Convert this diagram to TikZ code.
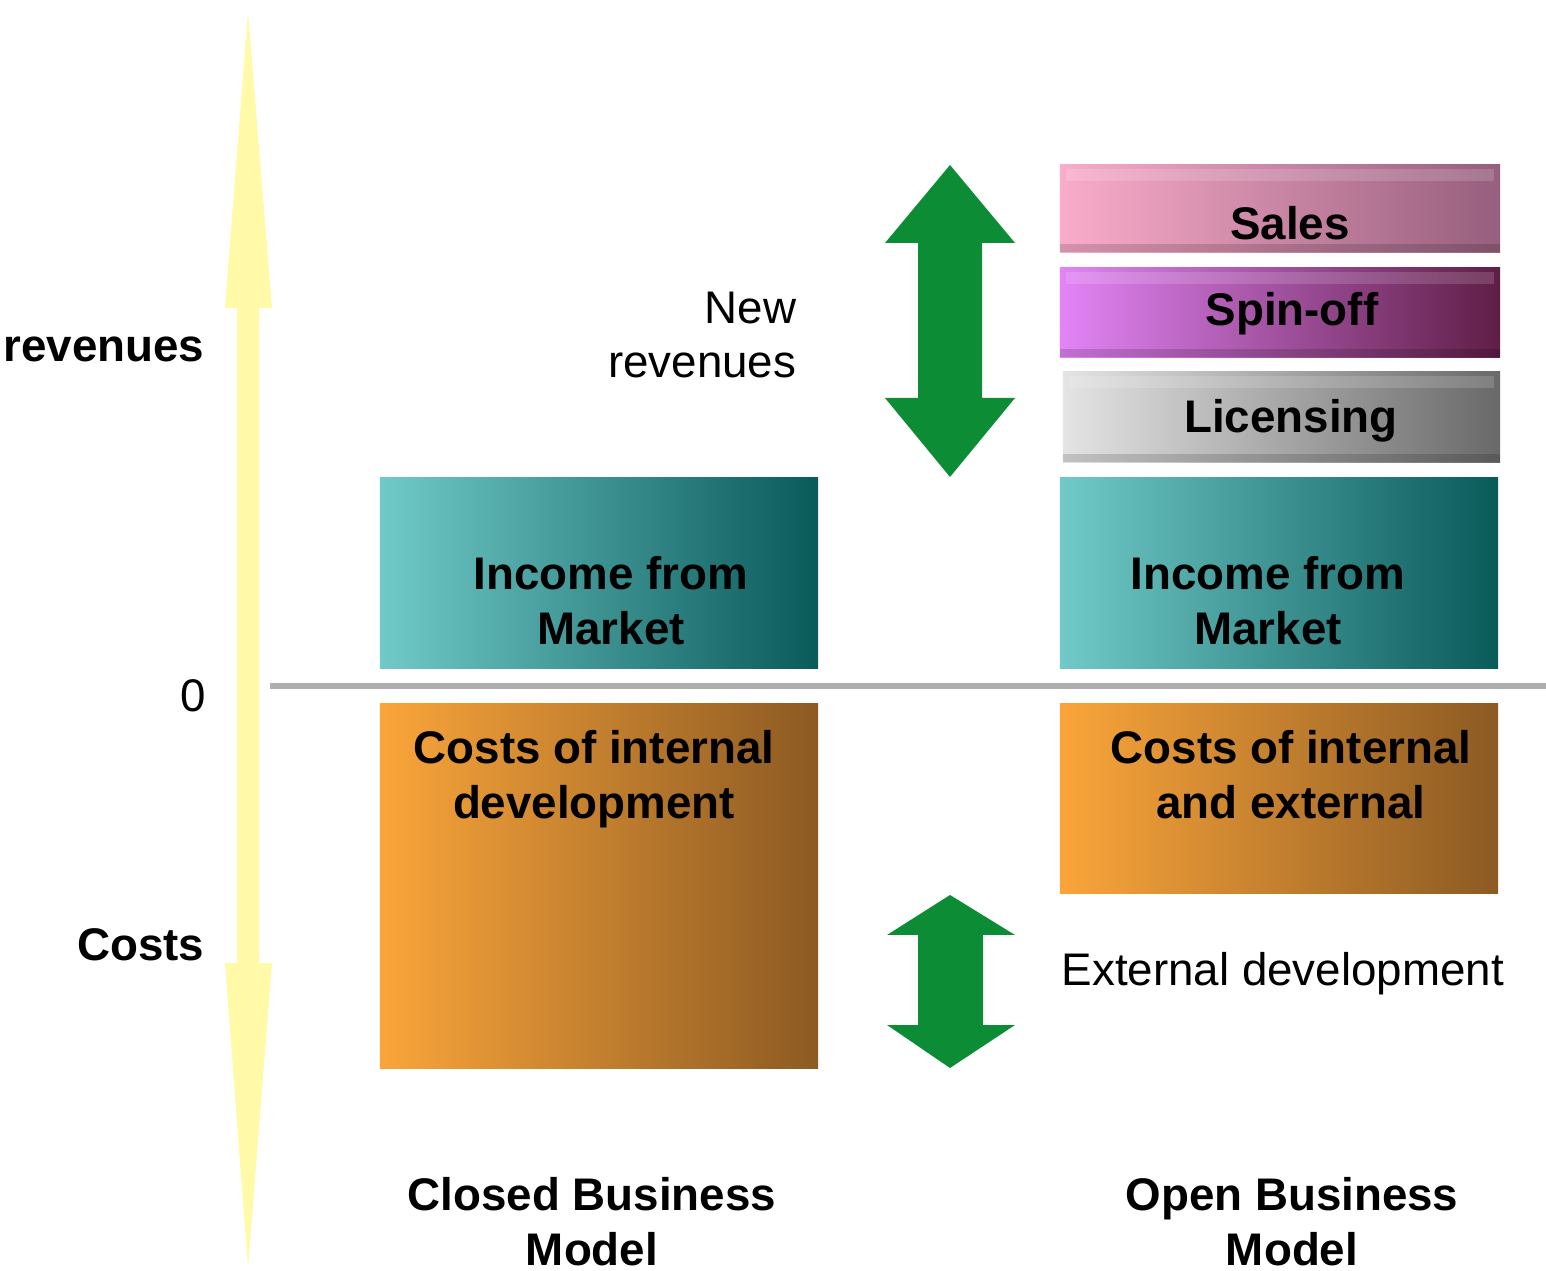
\documentclass[tikz,border=0pt]{standalone}
\usepackage{fontspec}
\setmainfont{Liberation Sans}
\usetikzlibrary{shadings}
\definecolor{tealL}{RGB}{112,202,200}
\definecolor{tealR}{RGB}{10,90,90}
\definecolor{oranL}{RGB}{250,165,58}
\definecolor{oranR}{RGB}{140,90,35}
\definecolor{saleL}{RGB}{250,172,202}
\definecolor{saleR}{RGB}{150,95,125}
\definecolor{spinL}{RGB}{226,132,246}
\definecolor{spinR}{RGB}{95,30,70}
\definecolor{licL}{RGB}{228,228,228}
\definecolor{licR}{RGB}{105,105,105}
\definecolor{arrgreen}{RGB}{12,140,52}
\definecolor{axisyellow}{RGB}{255,249,168}
\definecolor{zeroline}{RGB}{175,175,175}
\tikzset{
  lbl/.style={font=\fontsize{13}{15.6}\selectfont, text=black, inner sep=0pt, align=center},
  blbl/.style={lbl, font=\fontsize{13}{15.6}\selectfont\bfseries},
  bar/.style={rectangle, inner sep=0pt, draw=none},
  teal/.style={bar, left color=tealL, right color=tealR},
  oran/.style={bar, left color=oranL, right color=oranR},
  sale/.style={bar, left color=saleL, right color=saleR},
  spin/.style={bar, left color=spinL, right color=spinR},
  lic/.style={bar, left color=licL, right color=licR},
  hilite/.style={fill=white, opacity=0.15},
  lowlite/.style={fill=black, opacity=0.15}
}
\begin{document}
\begin{tikzpicture}[x=0.01cm,y=-0.01cm]
\useasboundingbox (0,0) rectangle (1546,1271);
% vertical axis arrow (yellow)
\fill[axisyellow] (248,12) -- (272,308) -- (259,308) -- (259,963) -- (272,963)
  -- (248,1268) -- (225,963) -- (237,963) -- (237,308) -- (225,308) -- cycle;
% zero line
\coordinate (z0) at (270,686);
\coordinate (z1) at (1546,686);
\draw[zeroline, line width=1.6pt] (z0) -- (z1);
% axis labels
\node[blbl, anchor=east] (rev) at (205,349) {revenues};
\node[blbl, anchor=east] (cost) at (205,945) {Costs};
\node[lbl, anchor=east] (zero) at (207,696) {0};
% closed model boxes
\node[teal, minimum width=4.38cm, minimum height=1.90cm] (incL) at (599,573) {};
\node[blbl] (incLt) at (611,601) {Income from\\Market};
\node[oran, minimum width=4.38cm, minimum height=3.64cm] (costL) at (599,886) {};
\node[blbl] (costLt) at (594,779) {Costs of internal\\development};
% open model boxes
\node[teal, minimum width=4.38cm, minimum height=1.90cm] (incR) at (1279,573) {};
\node[blbl] (incRt) at (1268,601) {Income from\\Market};
\node[oran, minimum width=4.38cm, minimum height=1.89cm] (costR) at (1279,798.5) {};
\node[blbl] (costRt) at (1291,775) {Costs of internal\\and external};
% revenue bars
\node[sale, minimum width=4.40cm, minimum height=0.87cm] (sales) at (1280,208.5) {};
\fill[hilite] (1066,169) rectangle (1494,181);
\fill[lowlite] (1060,244) rectangle (1500,252);
\node[blbl] (salest) at (1290,223) {Sales};
\node[spin, minimum width=4.40cm, minimum height=0.89cm] (spin) at (1280,312.5) {};
\fill[hilite] (1066,272) rectangle (1494,284);
\fill[lowlite] (1060,349) rectangle (1500,357);
\node[blbl] (spint) at (1292,314) {Spin-off};
\node[lic, minimum width=4.37cm, minimum height=0.90cm] (lic) at (1281.5,417) {};
\fill[hilite] (1069,376) rectangle (1494,388);
\fill[lowlite] (1063,454) rectangle (1500,462);
\node[blbl] (lict) at (1291,421) {Licensing};
% green double arrows
\fill[arrgreen] (950,165) -- (1015,243) -- (982,243) -- (982,398) -- (1015,398)
  -- (950,477) -- (885,398) -- (918,398) -- (918,243) -- (885,243) -- cycle;
\fill[arrgreen] (950,895) -- (1015,935) -- (983,935) -- (983,1025) -- (1015,1025)
  -- (950,1068) -- (887,1025) -- (918,1025) -- (918,935) -- (887,935) -- cycle;
% annotations
\node[lbl, align=right, anchor=east] (newrev) at (797,335) {New\\revenues};
\node[lbl, anchor=west] (extdev) at (1061,974) {External development};
% model titles
\node[blbl] (closed) at (592,1222) {Closed Business\\Model};
\node[blbl] (open) at (1292,1222) {Open Business\\Model};
\end{tikzpicture}
\end{document}
